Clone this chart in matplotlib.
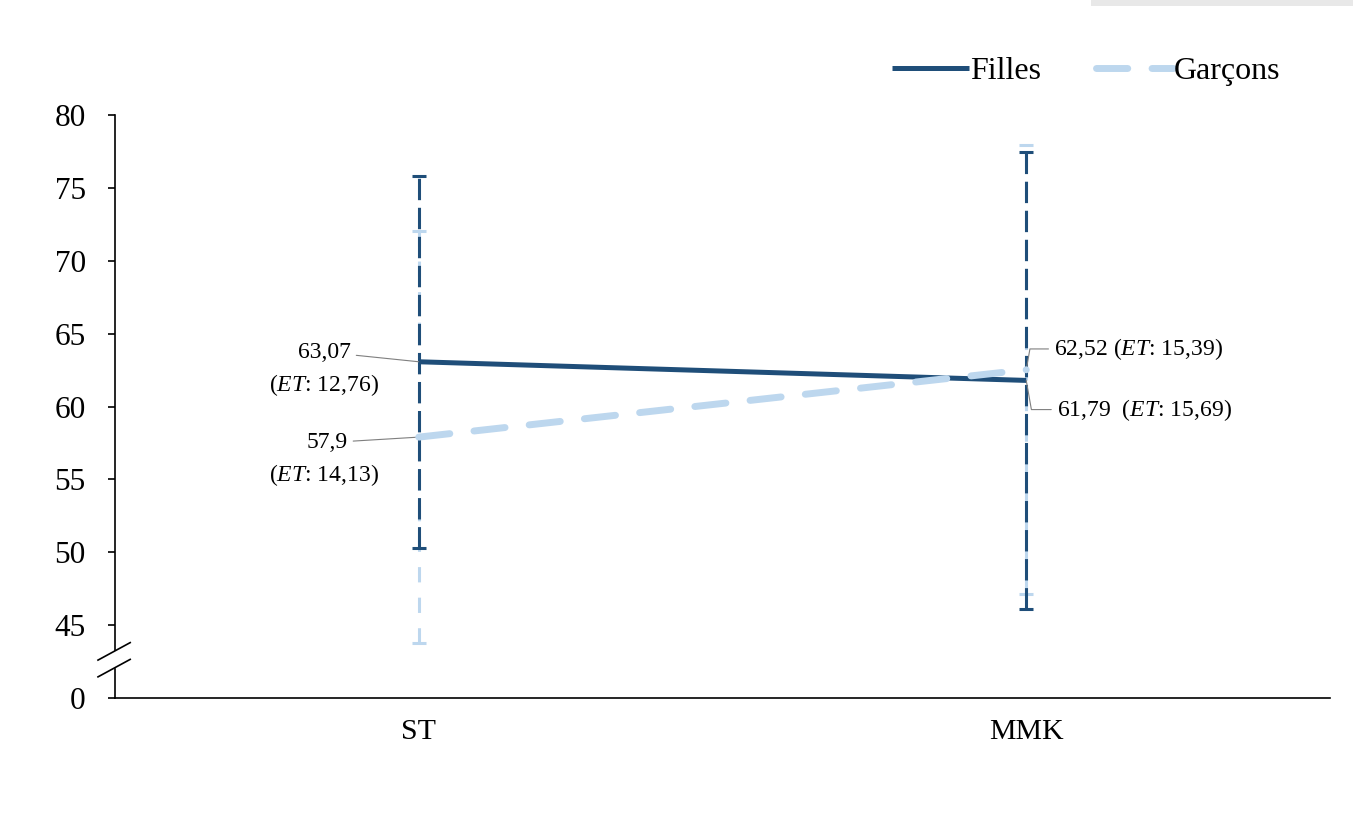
import matplotlib.pyplot as plt
import matplotlib.transforms as mtransforms
from matplotlib.patches import Rectangle
import numpy as np

plt.rcParams['font.family'] = ['Liberation Serif', 'DejaVu Serif']
plt.rcParams['mathtext.fontset'] = 'custom'
plt.rcParams['mathtext.rm'] = 'Liberation Serif'
plt.rcParams['mathtext.it'] = 'Liberation Serif:italic'

# Scores moyens et écarts-types par groupe
categories = ['ST', 'MMK']
filles_mean = [63.07, 61.79]
filles_sd = [12.76, 15.69]
garcons_mean = [57.9, 62.52]
garcons_sd = [14.13, 15.39]

# Axe Y coupé : le bas de l'axe (40) est étiqueté 0
y_ticks = [40, 45, 50, 55, 60, 65, 70, 75, 80]
y_labels = ['0', '45', '50', '55', '60', '65', '70', '75', '80']

dark = '#1f4e79'
light = '#bdd7ee'
grey = '#7f7f7f'

fig = plt.figure(figsize=(13.53, 8.18), dpi=100)
ax = fig.add_axes([0.085, 0.1467, 0.898, 0.7127])
x = np.arange(len(categories))

# Filles
ax.plot(x, filles_mean, color=dark, lw=3.6, solid_capstyle='butt', zorder=3, label='Filles')
eb = ax.errorbar(x, filles_mean, yerr=filles_sd, fmt='none', ecolor=dark,
                 elinewidth=2.2, capsize=5, capthick=2.2, zorder=2.5)
eb[2][0].set_linestyle((0, (7, 2.5)))

# Garçons
ax.plot(x, garcons_mean, color=light, lw=5, dashes=(4.5, 3.5), dash_capstyle='round',
        zorder=4, label='Garçons')
eb = ax.errorbar(x, garcons_mean, yerr=garcons_sd, fmt='none', ecolor=light,
                 elinewidth=2.2, capsize=5, capthick=2.2, zorder=2)
eb[2][0].set_linestyle((0, (5, 5)))

# Étiquettes des valeurs
fs = 17
line_kw = dict(arrowstyle='-', color=grey, lw=0.8, shrinkA=2, shrinkB=0)
ax.annotate(f'{filles_mean[0]:.2f}'.replace('.', ','), xy=(0, filles_mean[0]),
            xytext=(-68, 7), textcoords='offset points', ha='center', va='center',
            fontsize=fs, arrowprops=line_kw)
ax.annotate(r'($\mathit{ET}$: ' + f'{filles_sd[0]:.2f}'.replace('.', ',') + ')',
            xy=(0, filles_mean[0]), xytext=(-68, -16.5), textcoords='offset points',
            ha='center', va='center', fontsize=fs)
ax.annotate(f'{garcons_mean[0]:g}'.replace('.', ','), xy=(0, garcons_mean[0]),
            xytext=(-66, -4), textcoords='offset points', ha='center', va='center',
            fontsize=fs, arrowprops=line_kw)
ax.annotate(r'($\mathit{ET}$: ' + f'{garcons_sd[0]:.2f}'.replace('.', ',') + ')',
            xy=(0, garcons_mean[0]), xytext=(-68, -27), textcoords='offset points',
            ha='center', va='center', fontsize=fs)

elbow = dict(line_kw, connectionstyle='angle,angleA=180,angleB=80,rad=0')
ax.annotate(f'{garcons_mean[1]:.2f}'.replace('.', ',') + r' ($\mathit{ET}$: '
            + f'{garcons_sd[1]:.2f}'.replace('.', ',') + ')',
            xy=(1, garcons_mean[1]), xytext=(20, 15), textcoords='offset points',
            ha='left', va='center', fontsize=fs, arrowprops=elbow)
elbow2 = dict(line_kw, connectionstyle='angle,angleA=180,angleB=-80,rad=0')
ax.annotate(f'{filles_mean[1]:.2f}'.replace('.', ',') + r'  ($\mathit{ET}$: '
            + f'{filles_sd[1]:.2f}'.replace('.', ',') + ')',
            xy=(1, filles_mean[1]), xytext=(22, -21), textcoords='offset points',
            ha='left', va='center', fontsize=fs, arrowprops=elbow2)

# Axes
ax.set_xlim(-0.5, 1.5)
ax.set_ylim(40, 80)
ax.set_xticks(x)
ax.set_xticklabels(categories, fontsize=21.5)
ax.tick_params(axis='x', length=0, pad=15)
ax.set_yticks(y_ticks)
ax.set_yticklabels(y_labels, fontsize=22.5)
ax.tick_params(axis='y', length=5, width=1.2, pad=16, color='black')
for s in ['top', 'right', 'left']:
    ax.spines[s].set_visible(False)
ax.spines['bottom'].set_linewidth(1.2)
ax.spines['bottom'].set_color('black')

# Axe vertical interrompu avec marques de coupure
trans = mtransforms.blended_transform_factory(ax.transAxes, ax.transData)
ax.plot([0, 0], [43.3, 80], color='black', lw=1.2, transform=trans, clip_on=False)
ax.plot([0, 0], [40, 42.0], color='black', lw=1.2, transform=trans, clip_on=False)
for yb in [43.2, 42.05]:
    ax.plot([-0.014, 0.0125], [yb - 0.6, yb + 0.6], color='black', lw=1.2,
            transform=trans, clip_on=False)

fig.legend(loc='center', bbox_to_anchor=(0.803, 0.913), ncol=2, frameon=False,
           fontsize=23, handlelength=2.4, handletextpad=0.05, columnspacing=1.7)

fig.patches.append(Rectangle((0.806, 0.993), 0.194, 0.007, transform=fig.transFigure,
                             facecolor='#e8e8e8', edgecolor='none'))

fig.savefig('out.png', dpi=100)
